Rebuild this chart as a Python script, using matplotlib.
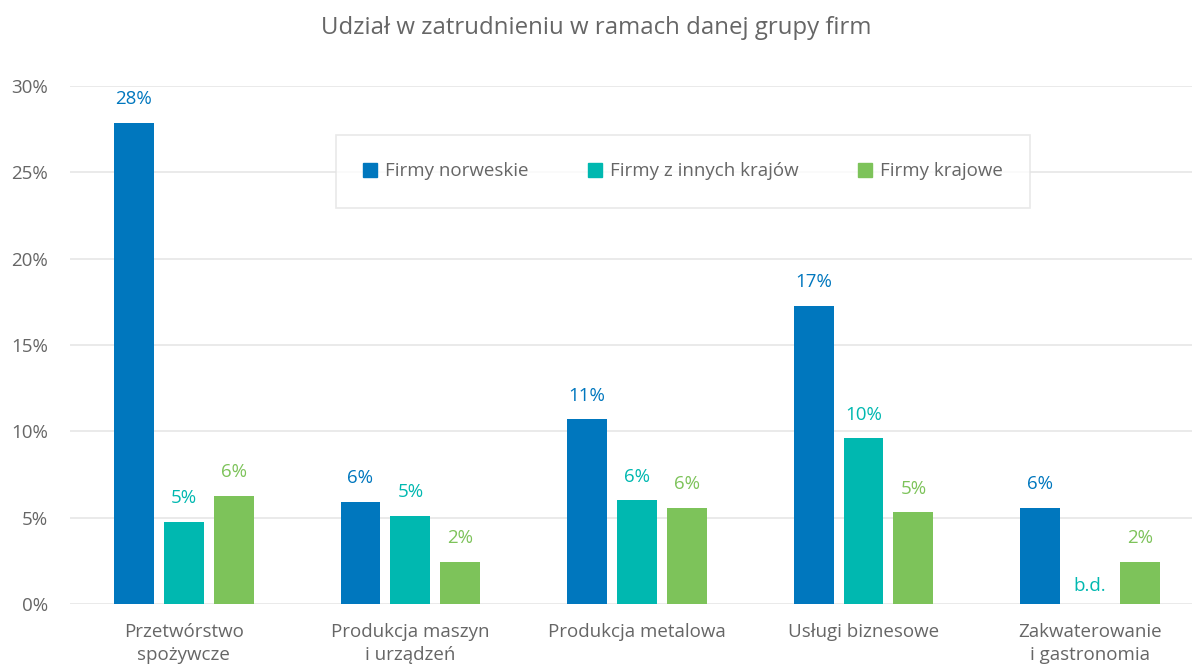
import numpy as np
import matplotlib
matplotlib.use("Agg")
import matplotlib.pyplot as plt
from matplotlib.patches import Patch

plt.rcParams["font.family"] = ["Open Sans", "DejaVu Sans"]

# ── Data ──────────────────────────────────────────────────────────────────────
categories = ["Przetwórstwo\nspożywcze", "Produkcja maszyn\ni urządzeń",
              "Produkcja metalowa", "Usługi biznesowe",
              "Zakwaterowanie\ni gastronomia"]
series = ["Firmy norweskie", "Firmy z innych krajów", "Firmy krajowe"]
norweskie = [27.85, 5.9, 10.7, 17.25, 5.55]
inne = [4.75, 5.1, 6.0, 9.6, np.nan]
krajowe = [6.25, 2.43, 5.55, 5.3, 2.45]
yticks = [0, 5, 10, 15, 20, 25, 30]

colors = ["#0077BE", "#00B8B0", "#7DC35A"]
grey = "#666666"

fig = plt.figure(figsize=(11.92, 6.64), dpi=100)
ax = fig.add_axes([70 / 1192, 1 - 604 / 664, 1 - 70 / 1192, (604 - 86) / 664])

x = np.arange(len(categories))
step, width = 0.22, 0.176
for i, (vals, col) in enumerate(zip([norweskie, inne, krajowe], colors)):
    xs = x + (i - 1) * step
    ax.bar(xs, np.nan_to_num(vals), width, color=col, zorder=3)
    for xi, v in zip(xs, vals):
        if np.isnan(v):
            ax.text(xi, 0.5, "b.d.", ha="center", va="bottom", color=col, fontsize=13.5)
        else:
            ax.text(xi, v + 0.85, f"{v:.0f}%", ha="center", va="bottom", color=col, fontsize=13.5)

ax.set_xlim(-0.502, 4.45)
ax.set_ylim(0, 30)
ax.set_yticks(yticks)
ax.set_yticklabels([f"{t}%" for t in yticks])
ax.set_xticks(x)
ax.set_xticklabels(categories, linespacing=1.3)
ax.tick_params(length=0, labelsize=13.5, labelcolor=grey)
ax.tick_params(axis="y", pad=16)
ax.tick_params(axis="x", pad=14)
ax.grid(axis="y", color="#e6e6e6", lw=1.2, zorder=0)
for s in ax.spines.values():
    s.set_visible(False)

fig.text(0.5, 1 - 28 / 664, "Udział w zatrudnieniu w ramach danej grupy firm",
         ha="center", va="center", fontsize=17.3, color=grey)

handles = [Patch(color=c, label=s) for c, s in zip(colors, series)]
leg = fig.legend(handles=handles, loc="center", ncol=3,
                 bbox_to_anchor=(683 / 1192, 1 - 171.5 / 664),
                 frameon=True, fancybox=False, fontsize=13.5,
                 handlelength=0.75, handleheight=0.75, handletextpad=0.4,
                 columnspacing=3.2, borderpad=1.45, borderaxespad=0)
for t in leg.get_texts():
    t.set_color(grey)
leg.get_frame().set_edgecolor("#e3e3e3")
leg.get_frame().set_linewidth(1.2)

fig.savefig("out.png", dpi=100)
